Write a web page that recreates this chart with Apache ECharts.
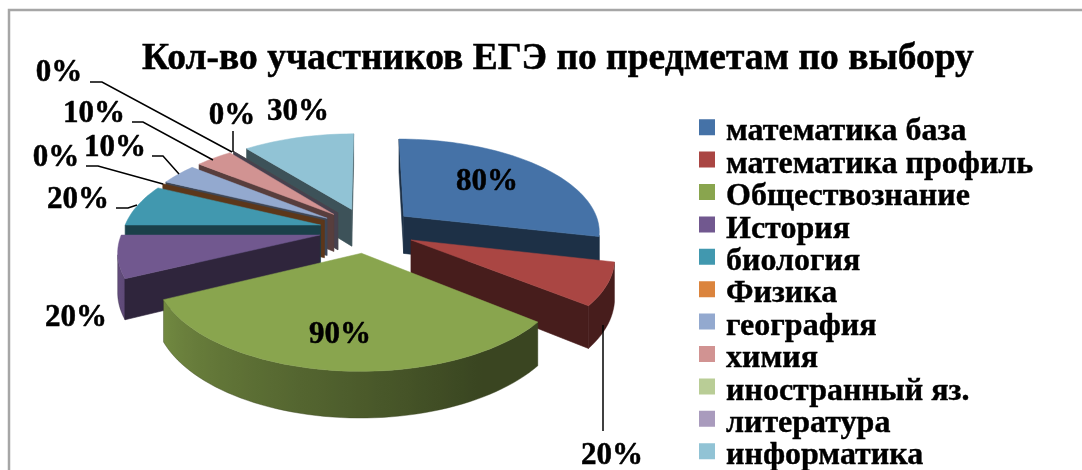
<!DOCTYPE html>
<html>
<head>
<meta charset="utf-8">
<title>ЕГЭ</title>
<script src="https://cdn.jsdelivr.net/npm/echarts@6/dist/echarts.min.js"></script>
<style>
html,body{margin:0;padding:0;background:#fff;}
#main{width:1082px;height:470px;}
</style>
</head>
<body>
<div id="main"></div>
<script>
var categories = ['математика база','математика профиль','Обществознание','История','биология','Физика','география','химия','иностранный яз.','литература','информатика'];
var values = [80,20,90,20,20,0,10,10,0,0,30];
var colors = ['#4572a7','#aa4643','#89a54e','#71588f','#4198af','#db843d','#93a9cf','#d19392','#b9cd96','#a99bbd','#91c3d5'];

//подписи: центр текста и выноска, по порядку категорий
var labelPos = [[487,182],[612,456],[340,335],[76,318],[78,200],[56,158],[115,148],[94,114],[59,73],[232,116],[298,112]];
var leaders = [
    null,
    [[603,325],[603,431]],
    null,
    null,
    [[116,208],[128,208],[137,205]],
    [[86,166],[98,166],[163,184]],
    [[152,156],[163,156],[179,174]],
    [[132,122],[143,122],[213,160]],
    [[90,82],[102,82],[232,152]],
    [[233,131],[233,152]],
    null
];

//параметры псевдо-3D
var cx = 367, cy = 230, R = 197, explode = 48, tilt = 0.47, persp = 0.15, depth = 38;
var camZ = -R / persp;
var fontName = '"Liberation Serif", serif';

function rad(a){ return a * Math.PI / 180; }

function project(X, Z){
    var f = 1 / (1 + persp * Z / R);
    return [cx + X * f, cy - tilt * Z * f, f];
}

function shade(hex, k){
    var n = parseInt(hex.slice(1), 16);
    var r = Math.round(((n >> 16) & 255) * k);
    var g = Math.round(((n >> 8) & 255) * k);
    var b = Math.round((n & 255) * k);
    return 'rgb(' + r + ',' + g + ',' + b + ')';
}

//углы секторов
var total = 0;
for(var i = 0; i < values.length; i++){ total += values[i]; }
var slices = [];
var acc = 0;
for(var i = 0; i < values.length; i++){
    var a0 = acc / total * 360;
    acc += values[i];
    var a1 = acc / total * 360;
    slices.push({start:a0, end:a1, mid:(a0 + a1) / 2});
}

//боковая грань вниз от ребра
function wallPoly(p, q, color){
    return {
        type:'polygon',
        shape:{points:[[p[0],p[1]],[q[0],q[1]],[q[0],q[1] + depth * q[2]],[p[0],p[1] + depth * p[2]]]},
        style:{fill:color, stroke:color, lineWidth:0.6}
    };
}

function rimShade(a){
    var k = 0.42 + (a - 150) / 110 * 0.48;
    if(k < 0.42){ k = 0.42; }
    if(k > 0.9){ k = 0.9; }
    return k;
}

function sliceItem(idx){
    return function(params, api){
        var s = slices[idx];
        var color = colors[idx];
        var ox = explode * Math.sin(rad(s.mid));
        var oz = explode * Math.cos(rad(s.mid));
        var apex = project(ox, oz);
        var children = [];

        function rimPoint(a){
            return project(ox + R * Math.sin(rad(a)), oz + R * Math.cos(rad(a)));
        }
        function facing(nx, nz, X, Z){
            return nx * (0 - X) + nz * (camZ - Z) > 0;
        }

        //внешний край: один многоугольник с градиентом
        var upper = [], lower = [], angles = [];
        var steps = [];
        for(var t = s.start; t < s.end; t += 2){ steps.push(t); }
        steps.push(s.end);
        for(var j = 0; j < steps.length; j++){
            var a = steps[j];
            var X = ox + R * Math.sin(rad(a)), Z = oz + R * Math.cos(rad(a));
            if(facing(Math.sin(rad(a)), Math.cos(rad(a)), X, Z)){
                var rp = rimPoint(a);
                upper.push([rp[0], rp[1]]);
                lower.unshift([rp[0], rp[1] + depth * rp[2]]);
                angles.push(a);
            }
        }
        if(upper.length > 1){
            var x0 = upper[0][0], x1 = upper[upper.length - 1][0];
            var stops = [];
            for(var k = 0; k < upper.length; k++){
                stops.push({offset:(upper[k][0] - x0) / (x1 - x0), color:shade(color, rimShade(angles[k]))});
            }
            children.push({
                type:'polygon',
                shape:{points:upper.concat(lower)},
                style:{fill:{type:'linear', x:x0, y:0, x2:x1, y2:0, global:true, colorStops:stops}, stroke:shade(color, 0.42), lineWidth:0.4}
            });
        }

        //боковые стенки
        if(facing(Math.sin(rad(s.start - 90)), Math.cos(rad(s.start - 90)), ox, oz)){
            children.push(wallPoly(apex, rimPoint(s.start), shade(color, 0.42)));
        }
        if(facing(Math.sin(rad(s.end + 90)), Math.cos(rad(s.end + 90)), ox, oz)){
            children.push(wallPoly(apex, rimPoint(s.end), shade(color, 0.42)));
        }

        //верхняя грань
        if(s.end > s.start){
            var pts = [[apex[0], apex[1]]];
            for(var j = 0; j < steps.length; j++){
                var p = rimPoint(steps[j]);
                pts.push([p[0], p[1]]);
            }
            children.push({type:'polygon', shape:{points:pts}, style:{fill:color, stroke:color, lineWidth:0.5}});
        }
        return {type:'group', children:children};
    };
}

//подписи и выноски
function renderLabel(params, api){
    var idx = api.value(0);
    var children = [];
    var line = leaders[idx];
    if(line){
        children.push({
            type:'polyline',
            shape:{points:line},
            style:{stroke:'#000', lineWidth:1.5, fill:null}
        });
    }
    children.push({
        type:'text',
        x:labelPos[idx][0],
        y:labelPos[idx][1],
        style:{
            text:values[idx] + '%',
            font:'bold 31px ' + fontName,
            fill:'#000',
            stroke:'#000',
            lineWidth:0.5,
            align:'center',
            verticalAlign:'middle'
        }
    });
    return {type:'group', children:children};
}

//порядок отрисовки: дальние секторы раньше
var order = [];
for(var i = 0; i < values.length; i++){ order.push(i); }
order.sort(function(p, q){
    return Math.cos(rad(slices[q].mid)) - Math.cos(rad(slices[p].mid));
});

var series = [];
for(var i = 0; i < categories.length; i++){
    series.push({
        type:'custom',
        name:categories[i],
        coordinateSystem:'none',
        silent:true,
        z:2 + order.indexOf(i),
        itemStyle:{color:colors[i]},
        renderItem:sliceItem(i),
        data:[[values[i]]]
    });
}
var labelData = [];
for(var i = 0; i < values.length; i++){ labelData.push([i]); }
series.push({
    type:'custom',
    name:'labels',
    coordinateSystem:'none',
    silent:true,
    z:30,
    renderItem:renderLabel,
    data:labelData
});

var myChart = echarts.init(document.getElementById('main'));
myChart.setOption({
    backgroundColor:'#fff',
    animation:false,
    title:{
        text:'Кол-во участников ЕГЭ по предметам по выбору',
        left:142,
        top:40,
        padding:0,
        textStyle:{fontFamily:fontName, fontWeight:'bold', fontSize:37.5, color:'#000', textBorderColor:'#000', textBorderWidth:0.5}
    },
    legend:{
        data:categories,
        orient:'vertical',
        left:699,
        top:116,
        height:400,
        padding:0,
        //квадрат выше центра строки: пустой подпуть растягивает рамку значка вниз
        icon:'path://M0,0H16V16H0Z M0,26L0,26Z',
        itemWidth:16,
        itemHeight:26,
        itemGap:0,
        selectedMode:false,
        textStyle:{fontFamily:fontName, fontWeight:'bold', fontSize:32, lineHeight:32, height:32, color:'#000', textBorderColor:'#000', textBorderWidth:0.4, padding:[0,0,0,6]}
    },
    graphic:[{
        type:'polyline',
        silent:true,
        shape:{points:[[9,470],[9,10],[1082,10]]},
        style:{stroke:'#a6a6a6', lineWidth:2.5, fill:null}
    }],
    series:series
});
</script>
</body>
</html>
